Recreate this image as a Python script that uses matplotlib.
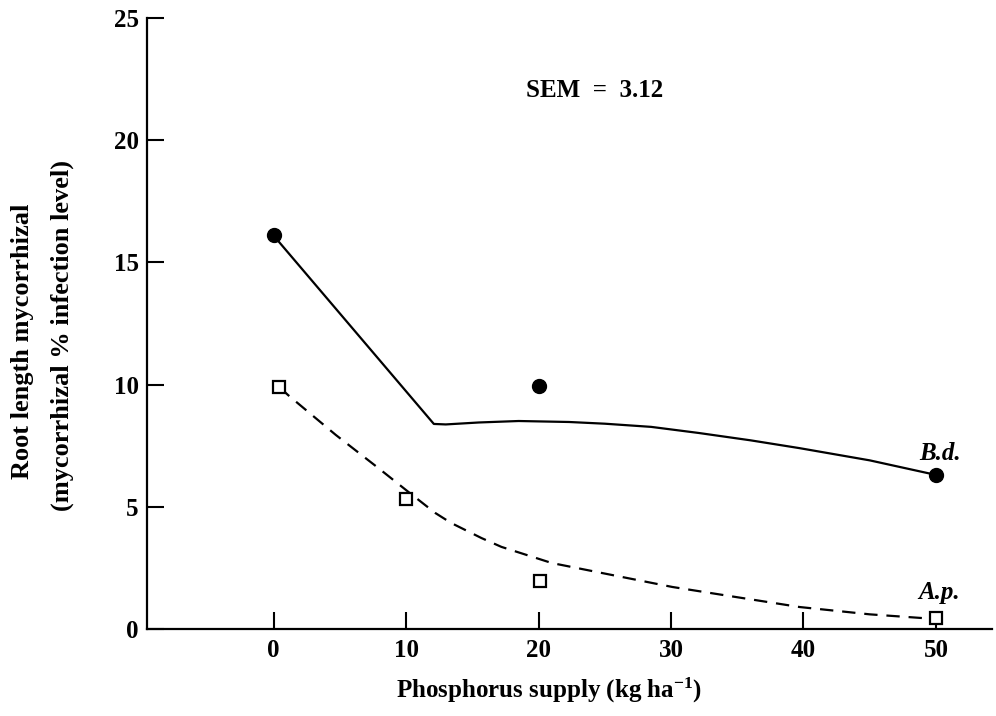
import matplotlib
matplotlib.use("Agg")
import matplotlib.pyplot as plt

# Measured points
bd_x = [0, 20, 50]
bd_y = [16.1, 9.95, 6.3]
ap_x = [0.45, 10, 20.1, 50]
ap_y = [9.9, 5.3, 1.95, 0.45]

# Fitted curves as drawn in the figure
bd_curve_x = [0, 12.1, 13.0, 15.5, 18.5, 22.3, 25.0, 28.5, 32.1, 36.0, 39.7, 45.0, 49.7]
bd_curve_y = [16.1, 8.39, 8.37, 8.45, 8.51, 8.47, 8.40, 8.27, 8.02, 7.72, 7.40, 6.90, 6.34]
ap_curve_x = [0.45, 1.1, 4.7, 7.9, 10.2, 12.2, 13.4, 15.7, 17.2, 21.0, 24.8, 30.1,
              35.0, 39.7, 45.0, 49.7]
ap_curve_y = [9.9, 9.57, 7.94, 6.59, 5.6, 4.75, 4.34, 3.72, 3.36, 2.7, 2.29, 1.72,
              1.3, 0.9, 0.6, 0.42]

xticks = [0, 10, 20, 30, 40, 50]
yticks = [0, 5, 10, 15, 20, 25]

plt.rcParams['font.family'] = ['Liberation Serif', 'DejaVu Serif']
plt.rcParams['font.weight'] = 'bold'
plt.rcParams['mathtext.fontset'] = 'custom'
plt.rcParams['mathtext.rm'] = 'Liberation Serif:bold'
plt.rcParams['mathtext.it'] = 'Liberation Serif:bold:italic'
plt.rcParams['mathtext.bf'] = 'Liberation Serif:bold'

fig = plt.figure(figsize=(9.96, 7.16), dpi=100)
ax = fig.add_axes([0.1476, 0.1215, 0.848, 0.8534])

ax.plot(bd_curve_x, bd_curve_y, color='black', lw=1.6, solid_joinstyle='round')
ax.plot(ap_curve_x, ap_curve_y, color='black', lw=1.6, dashes=(6, 4))

ax.plot(bd_x, bd_y, 'o', color='black', markersize=10, zorder=3)
ax.plot(ap_x, ap_y, 's', markerfacecolor='white', markeredgecolor='black',
        markersize=9, markeredgewidth=1.6, zorder=3)

ax.set_xlim(-9.55, 54.2)
ax.set_ylim(0, 25)
ax.set_xticks(xticks)
ax.set_yticks(yticks)
ax.tick_params(direction='in', length=12, width=1.5, labelsize=18)
ax.tick_params(axis='y', pad=6)
ax.tick_params(axis='x', pad=7)

for side in ['top', 'right']:
    ax.spines[side].set_visible(False)
for side in ['left', 'bottom']:
    ax.spines[side].set_linewidth(1.6)

ax.text(24.2, 22.05, 'SEM  =  3.12', fontsize=18, ha='center', va='center')
ax.text(50.3, 7.2, 'B.d.', fontsize=18, fontstyle='italic',
        ha='center', va='center')
ax.text(50.2, 1.5, 'A.p.', fontsize=18, fontstyle='italic',
        ha='center', va='center')

fig.text(0.551, 0.036, 'Phosphorus supply (kg ha$^{-1}$)', fontsize=18,
         ha='center', va='center')
fig.text(0.023, 0.524, 'Root length mycorrhizal', fontsize=19, rotation=90,
         ha='center', va='center')
fig.text(0.063, 0.532, '(mycorrhizal % infection level)', fontsize=19, rotation=90,
         ha='center', va='center')

fig.savefig('out.png', dpi=100)
